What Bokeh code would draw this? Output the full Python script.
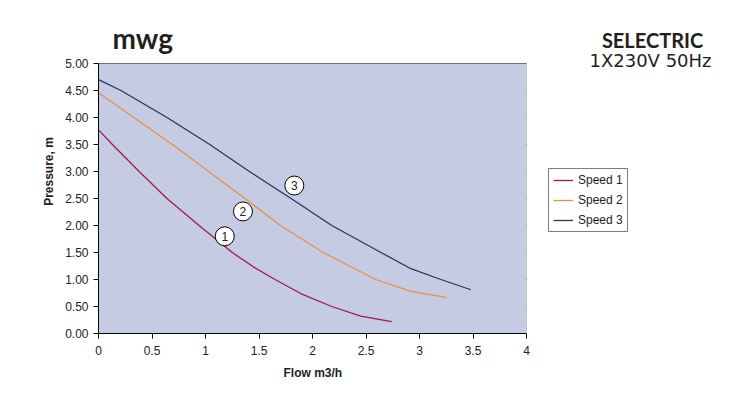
from bokeh.plotting import figure
from bokeh.models import (Legend, LegendItem, Label, FixedTicker, ColumnDataSource,
                          NumeralTickFormatter, Range1d, BoxAnnotation, Title)
from bokeh.core.properties import value
from bokeh.embed import file_html
from bokeh.resources import INLINE

# Data
speed1_x = [0, 0.13, 0.38, 0.64, 0.94, 1.25, 1.45, 1.65, 1.89, 2.18, 2.45, 2.74]
speed1_y = [3.77, 3.5, 3.0, 2.5, 2.0, 1.5, 1.23, 1.0, 0.74, 0.5, 0.32, 0.22]
speed2_x = [0, 0.33, 0.69, 1.03, 1.37, 1.70, 2.10, 2.59, 2.92, 3.25]
speed2_y = [4.46, 4.0, 3.5, 3.0, 2.5, 2.0, 1.5, 1.0, 0.78, 0.67]
speed3_x = [0, 0.21, 0.64, 1.04, 1.41, 1.80, 2.18, 2.64, 2.92, 3.20, 3.48]
speed3_y = [4.70, 4.5, 4.0, 3.5, 3.0, 2.5, 2.0, 1.5, 1.2, 1.0, 0.81]
series_names = ["Speed 1", "Speed 2", "Speed 3"]
series_colors = ["#A5174A", "#E8923F", "#1F3A66"]
marker_labels = ["1", "2", "3"]
marker_x = [1.18, 1.35, 1.83]
marker_y = [1.80, 2.26, 2.74]
x_ticks = [0, 0.5, 1, 1.5, 2, 2.5, 3, 3.5, 4]
y_ticks = [0, 0.5, 1, 1.5, 2, 2.5, 3, 3.5, 4, 4.5, 5]
x_max, y_max = 4, 5

# The frame is extended to the right and top so that the legend and titles
# (placed outside the plotting area in the original) are not clipped.
p = figure(width=740, height=395, output_backend="svg", toolbar_location=None,
           x_range=Range1d(0, 6), y_range=Range1d(0, 6), title=None,
           min_border_left=98, min_border_right=0, min_border_top=9, min_border_bottom=62)
p.border_fill_color = "white"
p.background_fill_color = "white"
p.outline_line_color = None

p.add_layout(BoxAnnotation(left=0, right=x_max, bottom=0, top=y_max,
                           fill_color="#C4CBE3", fill_alpha=1,
                           line_color="#888888", line_width=1, level="underlay"))

p.xgrid.grid_line_color = None
p.ygrid.grid_line_color = "black"
p.ygrid.grid_line_width = 1
p.ygrid.ticker = FixedTicker(ticks=y_ticks)
p.ygrid.cross_bounds = (0, x_max)

font = "Liberation Sans"
p.xaxis.ticker = FixedTicker(ticks=x_ticks)
p.xaxis.formatter = NumeralTickFormatter(format="0.[0]")
p.xaxis.bounds = (0, x_max)
p.yaxis.ticker = FixedTicker(ticks=y_ticks)
p.yaxis.formatter = NumeralTickFormatter(format="0.00")
p.yaxis.bounds = (0, y_max)
for ax in (p.xaxis, p.yaxis):
    ax.axis_line_color = "black"
    ax.major_tick_line_color = "black"
    ax.major_tick_out = 5
    ax.major_tick_in = 0
    ax.minor_tick_line_color = None
    ax.major_label_text_font = font
    ax.major_label_text_font_size = "12px"
    ax.major_label_text_color = "#222222"
    ax.axis_label_text_font = font
    ax.axis_label_text_font_size = "12px"
    ax.axis_label_text_font_style = "bold"
    ax.axis_label_text_color = "#222222"
p.yaxis.axis_label = "Pressure, m"
p.xaxis.major_label_standoff = 7
p.yaxis.major_label_standoff = 5
p.yaxis.axis_label_standoff = 6

# x-axis title, centred under the plotting area (0..4)
p.add_layout(Title(text="Flow m3/h", align="left", offset=185, standoff=12,
                   text_font=font, text_font_size="12px", text_font_style="bold",
                   text_color="#222222"), "below")

renderers = []
for xs, ys, c in zip([speed1_x, speed2_x, speed3_x], [speed1_y, speed2_y, speed3_y], series_colors):
    r = p.line(xs, ys, line_color=c, line_width=1.3)
    renderers.append(r)

src = ColumnDataSource(dict(x=marker_x, y=marker_y, t=marker_labels))
p.scatter("x", "y", source=src, size=19, fill_color="white", line_color="black", line_width=1)
p.text("x", "y", text="t", source=src, text_align="center", text_baseline="middle",
       text_font=value(font), text_font_size="12px", text_color="#222222")

legend = Legend(items=[LegendItem(label=n, renderers=[r]) for n, r in zip(series_names, renderers)],
                location=(450, 101), orientation="vertical",
                border_line_color="black", border_line_width=1,
                background_fill_color="white", background_fill_alpha=1,
                label_text_font=font, label_text_font_size="12px", label_text_color="#222222",
                glyph_width=20, glyph_height=14, label_height=14, spacing=6,
                padding=4, margin=0, label_standoff=5)
p.add_layout(legend, "center")

p.add_layout(Label(x=0.131, y=5.463, text="mwg", text_font="Lato", text_font_size="28px",
                   text_font_style="bold", text_color="#231F20", text_baseline="alphabetic"))
p.add_layout(Label(x=5.178, y=5.444, text="SELECTRIC", text_font="Lato", text_font_size="20px",
                   text_font_style="bold", text_color="#231F20", text_baseline="alphabetic",
                   text_align="center"))
p.add_layout(Label(x=5.159, y=5.056, text="1X230V 50Hz", text_font="DejaVu Sans", text_font_size="18px",
                   text_color="#231F20", text_baseline="alphabetic", text_align="center"))

open("out.html", "w").write(file_html(p, INLINE))
